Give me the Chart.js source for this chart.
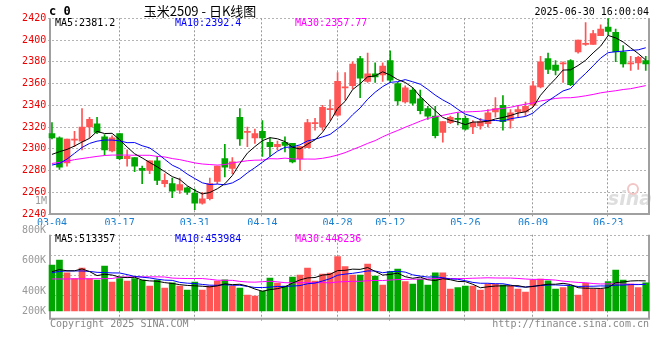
<!DOCTYPE html>
<html>
<head>
<meta charset="utf-8">
<script src="https://cdn.jsdelivr.net/npm/chart.js@4.4.1/dist/chart.umd.min.js"></script>
<style>
body { margin: 0; background: #fff; }
#wrap { position: relative; width: 660px; height: 360px; }
canvas { position: absolute; left: 0; }
#kline { top: 0; }
#vol { top: 225px; }
</style>
</head>
<body>
<div id="wrap">
<canvas id="kline" width="660" height="225"></canvas>
<canvas id="vol" width="660" height="115"></canvas>
</div>
<script>
// ------------------------------------------------------- //
// Data
// ------------------------------------------------------ //
var dates = ['03-04','03-05','03-06','03-07','03-10','03-11','03-12','03-13','03-14','03-17',
  '03-18','03-19','03-20','03-21','03-24','03-25','03-26','03-27','03-28','03-31',
  '04-01','04-02','04-03','04-07','04-08','04-09','04-10','04-11','04-14','04-15',
  '04-16','04-17','04-18','04-21','04-22','04-23','04-24','04-25','04-28','04-29',
  '04-30','05-06','05-07','05-08','05-09','05-12','05-13','05-14','05-15','05-16',
  '05-19','05-20','05-21','05-22','05-23','05-26','05-27','05-28','05-29','05-30',
  '06-03','06-04','06-05','06-06','06-09','06-10','06-11','06-12','06-13','06-16',
  '06-17','06-18','06-19','06-20','06-23','06-24','06-25','06-26','06-27','06-30'];
var shownDates = ['03-04','03-17','03-31','04-14','04-28','05-12','05-26','06-09','06-23'];

var opens = [2314,2310,2287,2308,2307,2320,2323,2311,2298,2314,
  2291,2292,2282,2280,2289,2268,2268,2262,2264,2259,
  2250,2254,2270,2291,2282,2329,2315,2310,2316,2306,
  2302,2306,2305,2291,2301,2323,2320,2336,2331,2356,
  2358,2383,2362,2369,2368,2381,2360,2343,2354,2346,
  2337,2330,2315,2324,2328,2328,2320,2321,2323,2334,
  2340,2326,2334,2334,2340,2357,2383,2377,2378,2381,
  2389,2396,2396,2404,2412,2407,2389,2378,2379,2381];
var highs = [2324,2311,2309,2316,2337,2329,2329,2313,2312,2314,
  2299,2292,2284,2289,2293,2277,2273,2273,2265,2263,
  2260,2273,2284,2304,2292,2337,2320,2318,2326,2310,
  2307,2311,2305,2302,2327,2328,2340,2345,2370,2370,
  2380,2385,2388,2379,2379,2390,2361,2358,2356,2354,
  2339,2339,2325,2330,2333,2330,2326,2328,2336,2347,
  2349,2336,2340,2343,2362,2385,2388,2381,2380,2382,
  2400,2416,2409,2414,2420,2410,2395,2385,2385,2385];
var lows = [2309,2281,2284,2302,2299,2310,2314,2294,2297,2290,
  2284,2279,2268,2277,2267,2265,2255,2259,2258,2244,
  2249,2253,2268,2274,2277,2303,2302,2305,2293,2293,
  2299,2297,2287,2280,2301,2317,2317,2326,2330,2345,
  2355,2347,2361,2361,2362,2361,2340,2342,2340,2332,
  2327,2310,2306,2323,2322,2317,2314,2318,2320,2329,
  2317,2319,2329,2330,2339,2356,2369,2368,2361,2358,
  2388,2395,2396,2404,2405,2380,2375,2372,2373,2372];
var closes = [2310,2283,2309,2309,2320,2327,2315,2299,2310,2291,
  2293,2284,2280,2289,2271,2271,2261,2267,2260,2250,
  2254,2268,2284,2283,2288,2309,2316,2314,2310,2302,
  2304,2303,2288,2302,2324,2324,2338,2337,2362,2357,
  2378,2365,2369,2366,2376,2363,2344,2356,2342,2335,
  2330,2312,2325,2329,2327,2318,2324,2325,2333,2337,
  2325,2333,2336,2339,2358,2380,2373,2372,2379,2359,
  2400,2397,2406,2410,2408,2389,2378,2379,2384,2378];
var volumes = [570000,603000,519000,481000,550000,481000,470000,563000,457000,481000,
  464000,481000,470000,431000,470000,418000,453000,431000,405000,457000,
  405000,431000,464000,472000,431000,418000,372000,366000,398000,484000,
  451000,431000,490000,503000,550000,464000,510000,517000,625000,559000,
  503000,503000,577000,497000,438000,526000,544000,460000,445000,477000,
  438000,519000,519000,412000,421000,431000,431000,405000,445000,445000,
  438000,431000,412000,392000,470000,477000,466000,412000,421000,431000,
  372000,449000,412000,412000,460000,537000,470000,445000,421000,453000];

// averages for the first days (their history is off the left edge)
var ma5Head = [2294.8, 2297.3, 2299.4, 2302.5];
var ma10Head = [2285, 2286.5, 2290.5, 2295.8, 2301.2, 2304.9, 2307, 2308, 2308];
var ma30Head = [2286.5,2287.5,2288.5,2290,2291,2292,2293,2293.8,2294.2,2294.2,
  2294.2,2294,2294,2294,2293,2292.5,2291,2290,2288.5,2287,
  2286,2285.5,2285,2285.5,2287,2288,2289,2289.5,2289.6];
var vma5Head = [526000, 540000, 532000, 532000];
var vma10Head = [519000,528000,531000,531000,531000,528000,522000,520000,518000];
var vma30Head = [478000,478000,478000,479000,479000,479000,480000,480000,481000,490000,
  492000,492000,492000,492000,492000,491000,484000,482000,481000,481000,
  481000,476000,470000,469000,469000,462000,458000,457000,460000];

var priceMaText = ['MA5:2381.2', 'MA10:2392.4', 'MA30:2357.77'];
var volMaText = ['MA5:513357', 'MA10:453984', 'MA30:446236'];
var volTicks = [200000, 400000, 600000, 800000];

// ------------------------------------------------------- //
// helpers
// ------------------------------------------------------ //
var upColor = '#ff5555', downColor = '#00a600';
var maColors = ['#000000', '#0000ff', '#ff00ff'];
var mono = '"DejaVu Sans Mono"';
var slotLeft = 48.2, slotRight = 649.5;

function movingAvg(src, n, head) {
  var out = [];
  for (var i = 0; i < src.length; i++) {
    if (i < n - 1) { out.push(head[i]); continue; }
    var s = 0;
    for (var j = i - n + 1; j <= i; j++) { s += src[j]; }
    out.push(s / n);
  }
  return out;
}

function txt(ctx, s, x, y, color, font, align, sx) {
  ctx.save();
  ctx.font = font;
  ctx.fillStyle = color;
  ctx.textBaseline = 'middle';
  ctx.textAlign = align || 'left';
  ctx.translate(x, y);
  ctx.scale(sx || 1, 1);
  ctx.fillText(s, 0, 0);
  ctx.restore();
}

function frame(ctx, top, bottom) {
  ctx.save();
  ctx.strokeStyle = '#a0a0a0';
  ctx.lineWidth = 2;
  ctx.beginPath();
  ctx.moveTo(50, top); ctx.lineTo(50, bottom); ctx.lineTo(649, bottom); ctx.lineTo(649, top);
  ctx.stroke();
  ctx.restore();
}

// dotted date lines, placed by the x scale
function dateLines(chart) {
  var ctx = chart.ctx, a = chart.chartArea, xs = chart.scales.x;
  ctx.save();
  ctx.strokeStyle = '#999999';
  ctx.lineWidth = 1;
  ctx.setLineDash([2, 2]);
  for (var i = 1; i < dates.length; i++) {
    if (shownDates.indexOf(dates[i]) < 0) { continue; }
    var x = Math.round(xs.getPixelForValue(i)) - 0.5;
    ctx.beginPath();
    ctx.moveTo(x, a.top);
    ctx.lineTo(x, a.bottom + 4);
    ctx.stroke();
  }
  ctx.restore();
}

var candleColors = closes.map(function (c, i) { return c >= opens[i] ? upColor : downColor; });
var wicks = lows.map(function (l, i) { return [l, highs[i]]; });
var bodies = opens.map(function (o, i) { return [o, closes[i]]; });

function maLine(data, color) {
  return { type: 'line', data: data, borderColor: color, borderWidth: 1, pointRadius: 0,
    tension: 0, fill: false, order: 0 };
}

// ------------------------------------------------------- //
// K line chart
// ------------------------------------------------------ //
var klineDecor = {
  id: 'klineDecor',
  beforeDatasetsDraw: function (chart) {
    var ctx = chart.ctx, a = chart.chartArea;
    txt(ctx, 'sina', 652, 200, '#dedede', 'italic bold 19px "DejaVu Sans"', 'right', 1);
    ctx.save();
    ctx.strokeStyle = '#f2c6c6';
    ctx.lineWidth = 2;
    ctx.beginPath(); ctx.arc(633, 189, 5, 0, Math.PI * 2); ctx.stroke();
    ctx.restore();
    dateLines(chart);
    frame(ctx, a.top, a.bottom);
  },
  afterDraw: function (chart) {
    var ctx = chart.ctx;
    txt(ctx, 'c 0', 49, 12, '#000', 'bold 12px ' + mono, 'left', 1);
    txt(ctx, '玉米2509 - 日K线图', 200, 11, '#000', '13px "Noto Sans CJK SC"', 'center', 1);
    txt(ctx, '2025-06-30 16:00:04', 649, 12, '#000', '11px ' + mono, 'right', 0.91);
    var xs = [55, 175, 295];
    for (var i = 0; i < 3; i++) {
      txt(ctx, priceMaText[i], xs[i], 23.5, maColors[i], '11px ' + mono, 'left', 0.91);
    }
    txt(ctx, '1M', 47, 201, '#999', '10px ' + mono, 'right', 1);
  }
};

new Chart(document.getElementById('kline'), {
  data: {
    labels: dates,
    datasets: [
      maLine(movingAvg(closes, 5, ma5Head), maColors[0]),
      maLine(movingAvg(closes, 10, ma10Head), maColors[1]),
      maLine(movingAvg(closes, 30, ma30Head), maColors[2]),
      { type: 'bar', data: bodies, backgroundColor: candleColors, barThickness: 6,
        minBarLength: 1, grouped: false, order: 1 },
      { type: 'bar', data: wicks, backgroundColor: candleColors, barThickness: 1,
        grouped: false, order: 2 }
    ]
  },
  options: {
    responsive: false,
    animation: false,
    events: [],
    layout: { padding: { left: 0, right: 660 - slotRight, top: 18.3, bottom: 0 } },
    plugins: { legend: { display: false }, tooltip: { enabled: false } },
    scales: {
      x: {
        type: 'category',
        offset: true,
        afterFit: function (s) { s.height = 11; },
        grid: { display: false, drawTicks: false, tickLength: 0 },
        border: { display: false },
        ticks: {
          autoSkip: false, maxRotation: 0, minRotation: 0, padding: 3,
          color: '#1a7fd0', font: { family: 'DejaVu Sans Mono', size: 10 },
          callback: function (v, i) { return shownDates.indexOf(dates[i]) >= 0 ? dates[i] : ''; }
        }
      },
      y: {
        min: 2240,
        max: 2420,
        afterFit: function (s) { s.width = slotLeft; },
        grid: { color: '#b4b4b4', drawTicks: false },
        border: { display: false, dash: [2, 2] },
        ticks: { stepSize: 20, padding: 2, color: '#ee0000',
          font: { family: 'DejaVu Sans Mono', size: 10 },
          callback: function (v) { return String(v); } }
      }
    }
  },
  plugins: [klineDecor]
});

// ------------------------------------------------------- //
// Volume chart
// ------------------------------------------------------ //
var volDecor = {
  id: 'volDecor',
  beforeDatasetsDraw: function (chart) {
    var ctx = chart.ctx, a = chart.chartArea;
    ctx.save();
    ctx.strokeStyle = '#b4b4b4';
    ctx.lineWidth = 1;
    ctx.setLineDash([2, 2]);
    for (var k = 0; k < 4; k++) {
      var yy = Math.round(a.top + k * 20.2) + 0.5;
      ctx.beginPath(); ctx.moveTo(50, yy); ctx.lineTo(649, yy); ctx.stroke();
    }
    ctx.restore();
    dateLines(chart);
    frame(ctx, a.top, a.bottom);
  },
  afterDraw: function (chart) {
    var ctx = chart.ctx, a = chart.chartArea, ys = chart.scales.y;
    volTicks.forEach(function (v) {
      var y = Math.min(ys.getPixelForValue(v), a.bottom - 8);
      txt(ctx, (v / 1000) + 'K', 46, y, '#999', '11px ' + mono, 'right', 0.91);
    });
    var xs = [55, 175, 295];
    for (var i = 0; i < 3; i++) {
      txt(ctx, volMaText[i], xs[i], a.top + 4.5, maColors[i], '11px ' + mono, 'left', 0.91);
    }
    txt(ctx, 'Copyright 2025 SINA.COM', 50, a.bottom + 5, '#888', '11px ' + mono, 'left', 0.91);
    txt(ctx, 'http://finance.sina.com.cn', 649, a.bottom + 5, '#888', '11px ' + mono, 'right', 0.91);
  }
};

new Chart(document.getElementById('vol'), {
  data: {
    labels: dates,
    datasets: [
      maLine(movingAvg(volumes, 5, vma5Head), maColors[0]),
      maLine(movingAvg(volumes, 10, vma10Head), maColors[1]),
      maLine(movingAvg(volumes, 30, vma30Head), maColors[2]),
      { type: 'bar', data: volumes, base: 267000, backgroundColor: candleColors,
        barThickness: 6, order: 1 }
    ]
  },
  options: {
    responsive: false,
    animation: false,
    events: [],
    layout: { padding: { left: slotLeft, right: 660 - slotRight, top: 9.7, bottom: 17.3 } },
    plugins: { legend: { display: false }, tooltip: { enabled: false } },
    scales: {
      x: {
        type: 'category',
        offset: true,
        afterFit: function (s) { s.height = 4; },
        grid: { display: false, drawTicks: false },
        border: { display: false },
        ticks: { display: false, autoSkip: false }
      },
      y: { display: false, min: 216000, max: 770000 }
    }
  },
  plugins: [volDecor]
});
</script>
</body>
</html>
